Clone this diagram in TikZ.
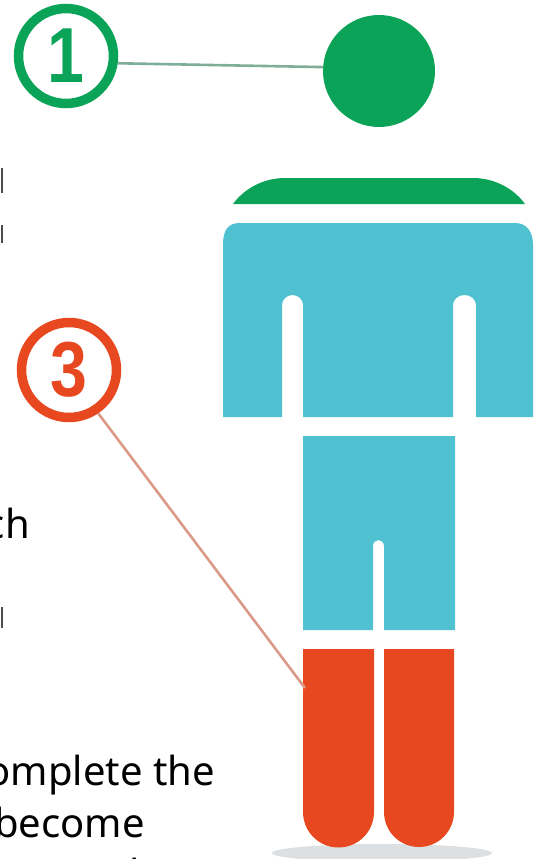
\documentclass[tikz,border=0pt]{standalone}
\usepackage{fontspec}
\setmainfont{Noto Sans}
\newfontfamily\digitfont{Liberation Sans}
\definecolor{oiGreen}{HTML}{0BA358}
\definecolor{oiTeal}{HTML}{4FC1D0}
\definecolor{oiRed}{HTML}{E8481F}
\definecolor{ink}{HTML}{000000}
\definecolor{shadowgray}{HTML}{DDE0E3}
\definecolor{greenline}{HTML}{7FAE98}
\definecolor{redline}{HTML}{DB9A88}
\tikzset{
  badge/.style={circle,draw=#1,text=#1,fill=white,line width=9.5pt,minimum size=95pt,inner sep=0pt,font=\fontsize{78}{78}\digitfont\bfseries},
  leader/.style={draw=#1,line width=2.6pt},
  body part/.style={fill=#1,draw=none},
  cut text/.style={font=\fontsize{40}{40}\selectfont,text=ink,anchor=base east,inner sep=0pt},
  cut mark/.style={draw=ink!70,line width=1.2pt},
}
\begin{document}
\begin{tikzpicture}[x=1pt,y=-1pt]
  \useasboundingbox (0,0) rectangle (533,859);
  \clip (0,0) rectangle (533,859);

  % ground shadow
  \fill[shadowgray] (382,853) ellipse (110 and 9);

  % figure
  \node[circle,body part=oiGreen,minimum size=112pt,inner sep=0pt,outer sep=0pt] (head) at (379,71) {};
  \fill[oiGreen] (233,204) .. controls (243,190) and (262,178) .. (285,178) -- (473,178)
    .. controls (496,178) and (515,190) .. (525,204) -- cycle;
  \fill[oiTeal] (223,417) -- (223,245) .. controls (223,230) and (228,223) .. (240,223) -- (515,223)
    .. controls (527,223) and (533,232) .. (533,245)
    -- (533,417) -- (476,417) -- (476,305) arc (0:-180:11.5 and 10) -- (453,417) -- (303,417)
    -- (303,305) arc (0:-180:10.5 and 10) -- (282,417) -- cycle;
  \fill[oiTeal] (303,436) -- (455,436) -- (455,630) -- (384,630) -- (384,546)
    arc (0:-180:5.5 and 6) -- (373,630) -- (303,630) -- cycle;
  \fill[oiRed] (303,649) -- (374,649) -- (374,812) arc (0:180:35.5) -- cycle;
  \fill[oiRed] (384,649) -- (454,649) -- (454,812) arc (0:180:35) -- cycle;

  % badges
  \node[badge=oiGreen] (one) at (66,56) {\scalebox{.85}[1]{1}};
  \node[badge=oiRed] (three) at (69,370) {\scalebox{.85}[1]{3}};
  \coordinate (legtop) at (305,688);
  \draw[leader=greenline] (one.-8) -- (head.176);
  \draw[leader=redline] (three.-56) -- (legtop);

  % cut off text
  \node[cut text] (ch) at (30,538) {ch};
  \node[cut text] (line one) at (215,785) {omplete the};
  \node[cut text] (line two) at (145,837) {become};
  \node[cut text,anchor=base west] (line three) at (53,888) {(Both};

  % slivers of the lines cut off at the edge
  \coordinate (m1) at (2,168); \coordinate (m2) at (2,193);
  \coordinate (m3) at (2,225); \coordinate (m4) at (2,243);
  \coordinate (m5) at (2,607); \coordinate (m6) at (2,628);
  \draw[cut mark] (m1) -- (m2);
  \draw[cut mark] (m3) -- (m4);
  \draw[cut mark] (m5) -- (m6);
\end{tikzpicture}
\end{document}
